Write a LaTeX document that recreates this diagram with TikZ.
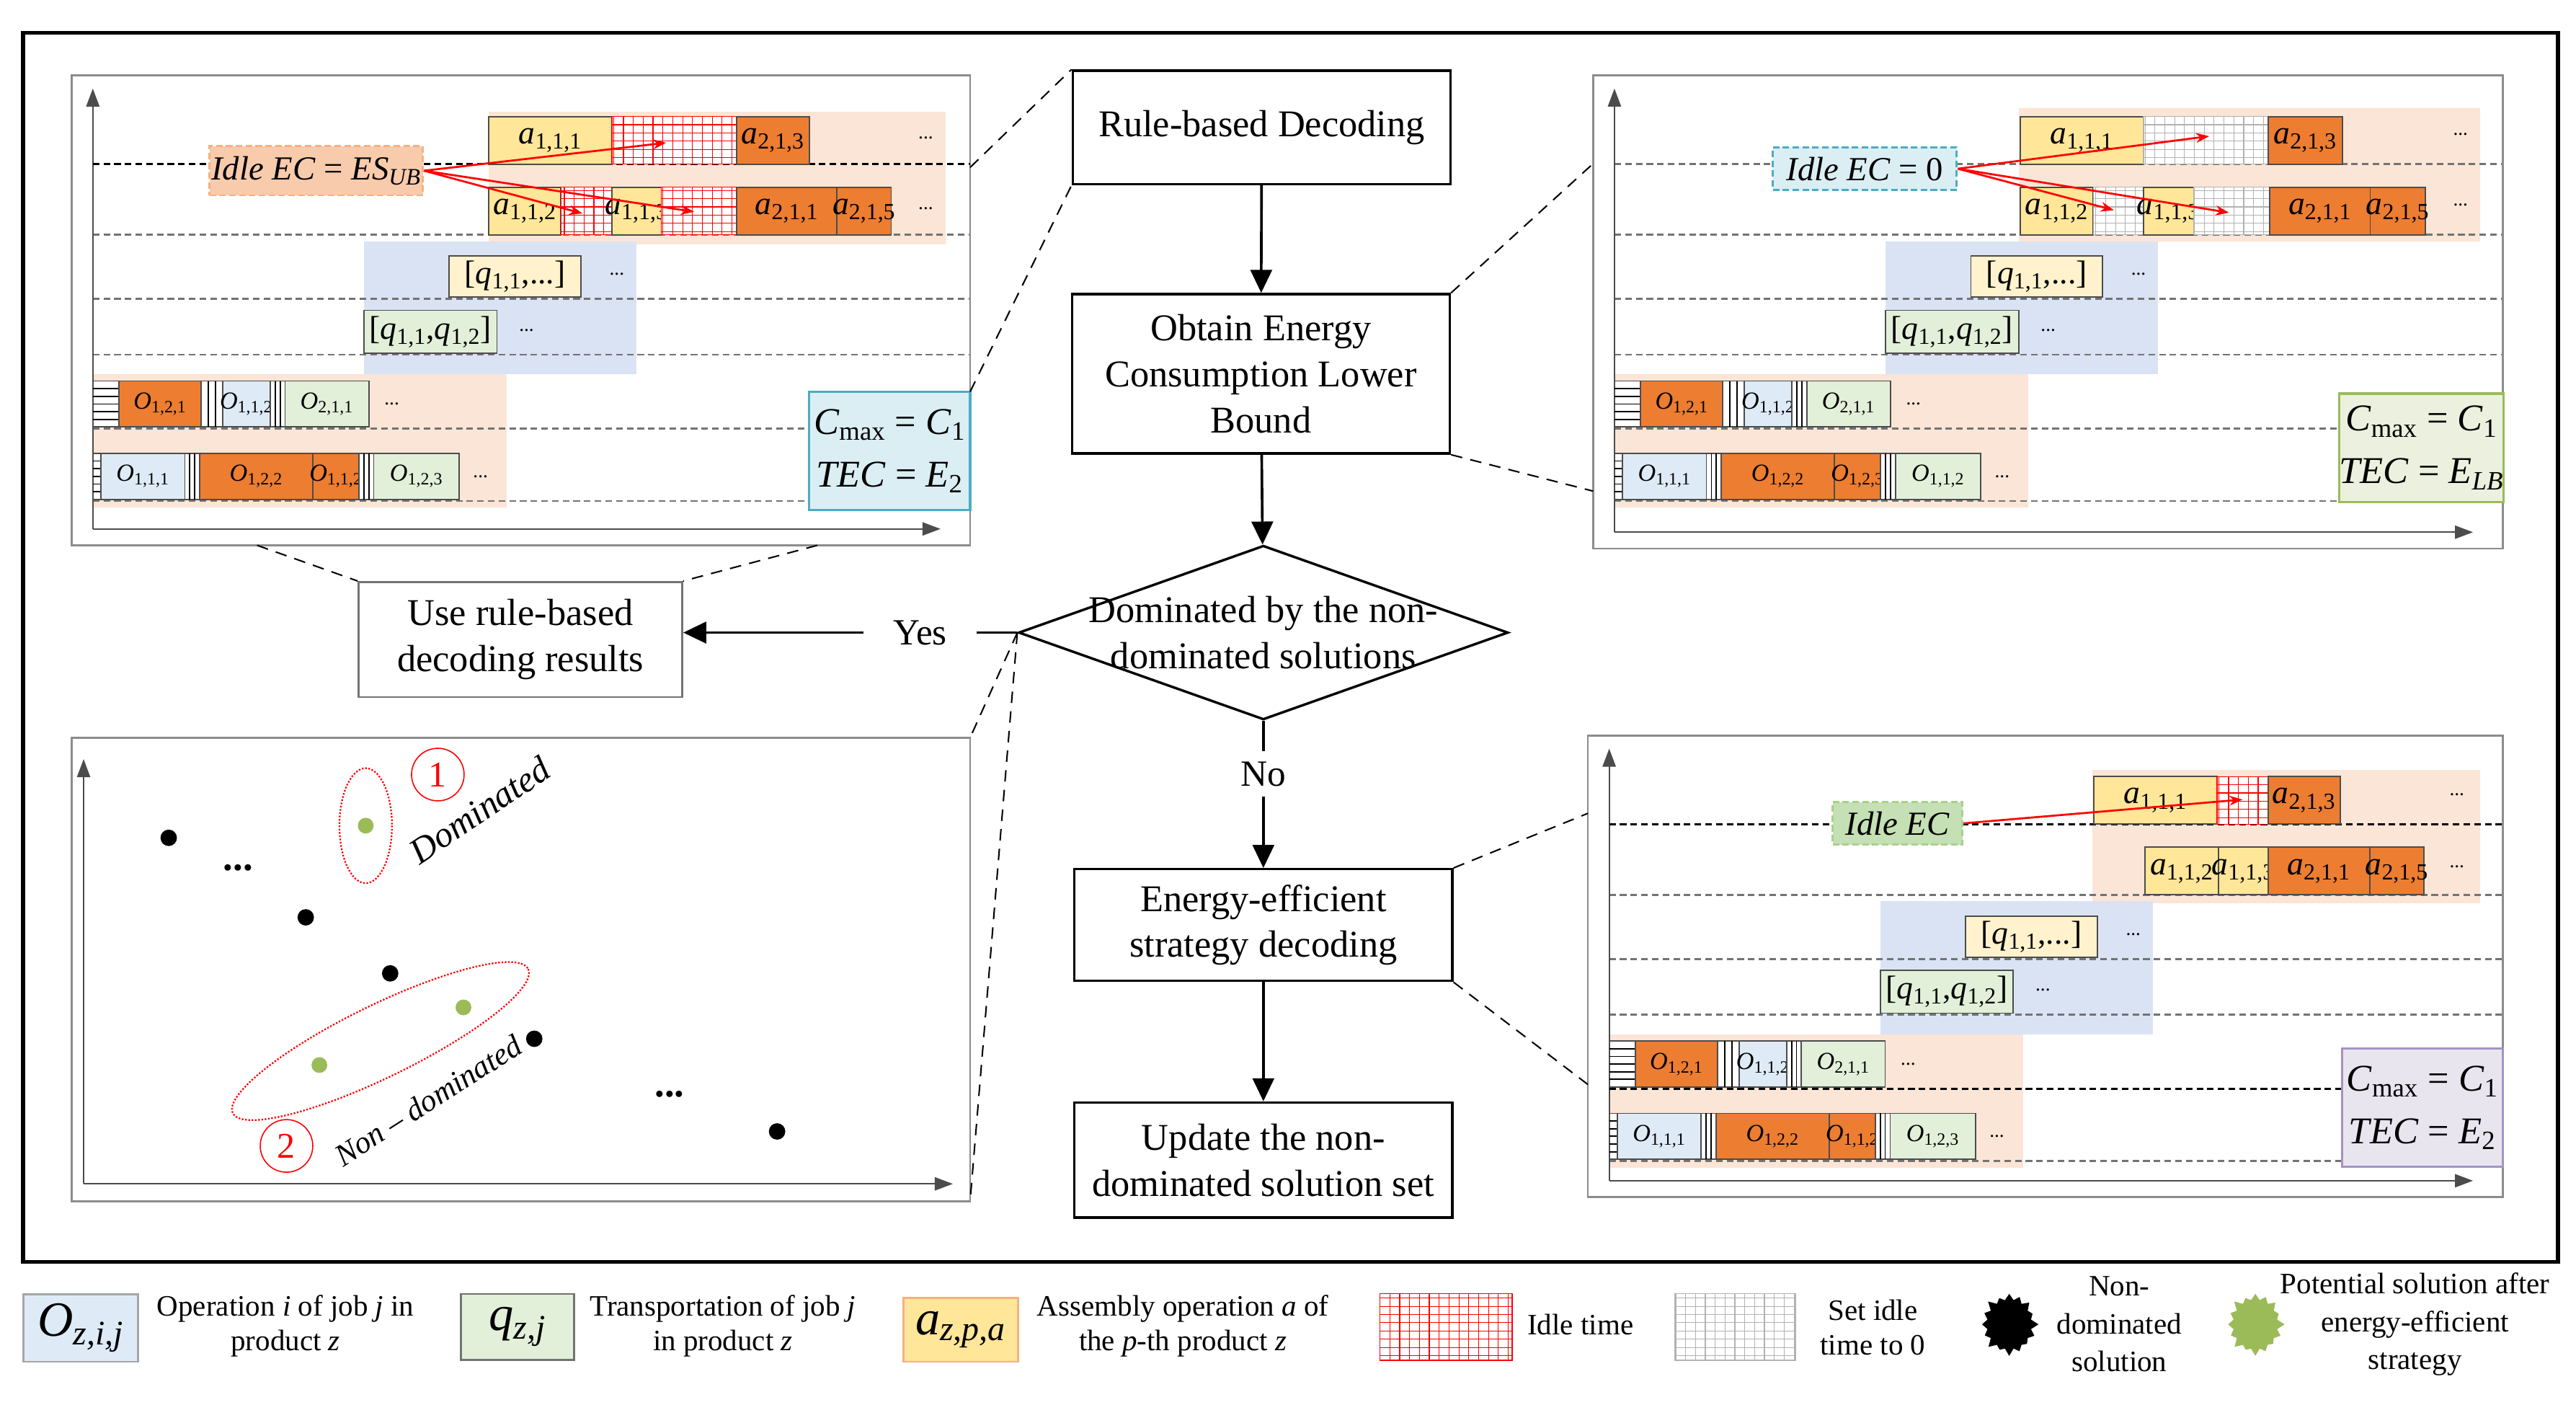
\documentclass[tikz,border=0pt]{standalone}
\usepackage{fontspec}
\setmainfont{Liberation Serif}
\usetikzlibrary{arrows.meta,positioning,shapes.geometric,shapes.symbols}

\definecolor{peach}{HTML}{FBE5D6}
\definecolor{orng}{HTML}{ED7D31}
\definecolor{asmy}{HTML}{FFE699}
\definecolor{bluebg}{HTML}{DAE3F3}
\definecolor{qyel}{HTML}{FFF2CC}
\definecolor{lgreen}{HTML}{E2F0D9}
\definecolor{lblue}{HTML}{DEEBF7}
\definecolor{tealf}{HTML}{DAEEF3}
\definecolor{teald}{HTML}{4BACC6}
\definecolor{olivef}{HTML}{EBF1DE}
\definecolor{olived}{HTML}{9BBB59}
\definecolor{purf}{HTML}{E9E5EF}
\definecolor{purd}{HTML}{A593C4}
\definecolor{idlef}{HTML}{F8CBAD}
\definecolor{idled}{HTML}{F4B183}
\definecolor{ecgf}{HTML}{C5E0B4}
\definecolor{ecgd}{HTML}{A9D18E}

\tikzset{
  flow/.style={draw,line width=1.5pt,minimum width=230pt,align=center,font=\fontsize{23}{28}\selectfont},
  decide/.style={draw,diamond,line width=1.5pt,minimum width=298pt,minimum height=106pt,inner sep=0pt},
  conn/.style={line width=1.6pt,-{Triangle[length=14pt,width=13pt]}},
  zoomln/.style={dash pattern=on 7pt off 5pt,line width=.9pt},
  panel/.style={draw=black!45,line width=1.2pt},
  axis/.style={line width=1pt,black!70,-{Triangle[length=11pt,width=8pt]}},
  gdash/.style={black!55,dash pattern=on 4pt off 2.5pt,line width=1.2pt},
  kdash/.style={black,dash pattern=on 4pt off 2.5pt,line width=1.4pt},
  gblock/.style={draw=black!70,line width=.8pt},
  glab/.style={font=\fontsize{20}{20}\selectfont,inner sep=0pt},
  qlab/.style={font=\fontsize{20}{20}\selectfont,inner sep=0pt},
  olab/.style={font=\fontsize{15}{15}\selectfont,inner sep=0pt},
  gdots/.style={font=\fontsize{12}{12}\selectfont},
  idlebox/.style={dash pattern=on 4pt off 2pt,line width=1.3pt,inner sep=0pt,font=\fontsize{20.5}{20.5}\selectfont\itshape},
  resbox/.style={line width=1.5pt,align=center,inner sep=0pt,font=\fontsize{23}{32}\selectfont},
  redarr/.style={red,line width=1.2pt,-{Stealth[length=8pt,width=6pt]}},
  legtxt/.style={align=center,font=\fontsize{18}{21}\selectfont},
  legbox/.style={line width=1.2pt,inner sep=0pt},
}

\newcommand\op[2]{\textit{#1}\textsubscript{#2}}
% block with centred label
\newcommand\gblk[7][glab]{\filldraw[gblock,fill=#6] (#2,#3) rectangle (#4,#5);
  \node[#1] at ({(#2+#4)/2},{(#3+#5)/2}) {#7};}
% idle time grid
\newcommand\gidle[5]{\filldraw[fill=white,draw=#5,line width=.6pt] (#1,#2) rectangle (#3,#4);
  \draw[#5,line width=.5pt,xstep=6pt,ystep=5pt] (#1,#2) grid (#3,#4);}
% striped fillers
\newcommand\hst[4]{\filldraw[gblock,fill=white] (#1,#2) rectangle (#3,#4);
  \foreach \k in {1,...,5} \draw[line width=.8pt] (#1,{#2+\k*(#4-#2)/6}) -- (#3,{#2+\k*(#4-#2)/6});}
\newcommand\vst[4]{\filldraw[gblock,fill=white] (#1,#2) rectangle (#3,#4);
  \foreach \k in {1,2} \draw[line width=.8pt] ({#1+\k*(#3-#1)/3},#2) -- ({#1+\k*(#3-#1)/3},#4);}
% common part of a gantt panel: width, height, labels of row 2
\newcommand\gantt[4]{%
  \fill[bluebg] (178,101) rectangle (344,182);
  \fill[peach] (13,182) rectangle (265,263);
  \foreach \y in {54,97,136,170,215,259} \draw[gdash] (13,\y) -- (#1,\y);
  \draw[axis] (13,{#2-10}) -- (13,8);
  \draw[axis] (13,{#2-10}) -- ({#1-18},{#2-10});
  \gblk[qlab]{230}{110}{310}{135}{qyel}{[\op{q}{1,1},...]}
  \node[gdots] at (332,121) {...};
  \gblk[qlab]{178}{143}{259}{169}{lgreen}{[\op{q}{1,1},\op{q}{1,2}]}
  \node[gdots] at (277,155) {...};
  \hst{13}{186}{29}{214}
  \gblk[olab]{29}{186}{79}{214}{orng}{\op{O}{1,2,1}}
  \vst{79}{186}{92}{214}
  \gblk[olab]{92}{186}{121}{214}{lblue}{\op{O}{1,1,2}}
  \vst{121}{186}{130}{214}
  \gblk[olab]{130}{186}{181}{214}{lgreen}{\op{O}{2,1,1}}
  \node[gdots] at (195,200) {...};
  \hst{13}{230}{18}{258}
  \gblk[olab]{18}{230}{69}{258}{lblue}{\op{O}{1,1,1}}
  \vst{69}{230}{78}{258}
  \gblk[olab]{78}{230}{147}{258}{orng}{\op{O}{1,2,2}}
  \gblk[olab]{147}{230}{175}{258}{orng}{\op{O}{#3}}
  \vst{175}{230}{184}{258}
  \gblk[olab]{184}{230}{236}{258}{lgreen}{\op{O}{#4}}
  \node[gdots] at (249,244) {...};
  \draw[panel] (0,0) rectangle (#1,#2);
}

\begin{document}
\begin{tikzpicture}[x=1pt,y=-1pt]
\useasboundingbox (0,0) rectangle (1568,866);
\draw[line width=2.4pt] (14,20) rectangle (1557,768);

% rule-based schedule
\begin{scope}[shift={(43.5,45.9)}]
  \fill[peach] (254,22) rectangle (532,103);
  \gantt{547}{286}{1,1,2}{1,2,3}
  \draw[kdash] (13,54) -- (547,54);
  \gblk{254}{25}{329}{54}{asmy}{\op{a}{1,1,1}}
  \gidle{329}{25}{405}{54}{red}
  \gblk{405}{25}{449}{54}{orng}{\op{a}{2,1,3}}
  \node[gdots] at (520,38) {...};
  \gblk{254}{68}{298}{97}{asmy}{\op{a}{1,1,2}}
  \gidle{298}{68}{329}{97}{red}
  \gblk{329}{68}{359}{97}{asmy}{\op{a}{1,1,3}}
  \gidle{359}{68}{405}{97}{red}
  \gblk{405}{68}{466}{97}{orng}{\op{a}{2,1,1}}
  \gblk{466}{68}{499}{97}{orng}{\op{a}{2,1,5}}
  \node[gdots] at (520,81) {...};
  \node[idlebox,draw=idled,fill=idlef,minimum width=130pt,minimum height=30pt] (ecTL) at (149,58) {Idle EC \textup{=} ES\textsubscript{UB}};
  \coordinate (tl1) at (362,41); \coordinate (tl2) at (311,84); \coordinate (tl3) at (379,83);
  \foreach \t in {tl1,tl2,tl3} \draw[redarr] (ecTL.east) -- (\t);
  \node[resbox,draw=teald,fill=tealf,minimum width=98pt,minimum height=72pt] (resTL) at (498,228.6)
    {\op{C}{max} = \op{C}{1}\\\textit{TEC} = \op{E}{2}};
  \coordinate (tlA) at (547,56); \coordinate (tlB) at (547,192.5);
  \coordinate (tlC) at (113,286); \coordinate (tlD) at (454,286);
\end{scope}

% lower bound schedule
\begin{scope}[shift={(969.7,45.9)}]
  \fill[peach] (259,20) rectangle (540,101);
  \gantt{553.6}{288}{1,2,3}{1,1,2}
  \gblk{260}{25}{335}{54}{asmy}{\op{a}{1,1,1}}
  \gidle{335}{25}{411}{54}{black!30}
  \gblk{411}{25}{456}{54}{orng}{\op{a}{2,1,3}}
  \node[gdots] at (528,36) {...};
  \gblk{260}{68}{304.5}{97}{asmy}{\op{a}{1,1,2}}
  \gidle{304.5}{68}{335}{97}{black!30}
  \gblk{335}{68}{365.5}{97}{asmy}{\op{a}{1,1,3}}
  \gidle{365.5}{68}{412}{97}{black!30}
  \gblk{412}{68}{473}{97}{orng}{\op{a}{2,1,1}}
  \gblk{473}{68}{506.6}{97}{orng}{\op{a}{2,1,5}}
  \node[gdots] at (528,79) {...};
  \node[idlebox,draw=teald,fill=tealf,minimum width=112pt,minimum height=26pt] (ecTR) at (165.4,56.8) {Idle EC \textup{= 0}};
  \coordinate (tr1) at (375,37); \coordinate (tr2) at (317,82); \coordinate (tr3) at (387,83.5);
  \foreach \t in {tr1,tr2,tr3} \draw[redarr] (ecTR.east) -- (\t);
  \node[resbox,draw=olived,fill=olivef,minimum width=99pt,minimum height=66pt] (resTR) at (504.2,226.7)
    {\op{C}{max} = \op{C}{1}\\\textit{TEC} = \op{E}{\textit{LB}}};
  \coordinate (trA) at (0,53.7); \coordinate (trB) at (0,253);
\end{scope}

% energy-efficient schedule
\begin{scope}[shift={(966.5,447.6)}]
  \fill[peach] (307,21) rectangle (543,102);
  \gantt{556.8}{281}{1,1,2}{1,2,3}
  \draw[kdash] (13,54) -- (556.8,54);
  \draw[kdash] (13,215) -- (459,215);
  \gblk{308}{25}{383}{54}{asmy}{\op{a}{1,1,1}}
  \gidle{383}{25}{414}{54}{red}
  \gblk{414}{25}{458}{54}{orng}{\op{a}{2,1,3}}
  \node[gdots] at (529,36) {...};
  \gblk{339}{68}{384}{97}{asmy}{\op{a}{1,1,2}}
  \gblk{384}{68}{414}{97}{asmy}{\op{a}{1,1,3}}
  \gblk{414}{68}{476}{97}{orng}{\op{a}{2,1,1}}
  \gblk{476}{68}{509}{97}{orng}{\op{a}{2,1,5}}
  \node[gdots] at (529,80) {...};
  \node[idlebox,draw=ecgd,fill=ecgf,minimum width=79pt,minimum height=26pt] (ecBR) at (188.5,53.5) {Idle EC};
  \coordinate (br1) at (398.5,39);
  \draw[redarr] (ecBR.east) -- (br1);
  \node[resbox,draw=purd,fill=purf,minimum width=97.7pt,minimum height=72pt] (resBR) at (508,226.5)
    {\op{C}{max} = \op{C}{1}\\\textit{TEC} = \op{E}{2}};
  \coordinate (brA) at (0,47.4); \coordinate (brB) at (0,212.4);
\end{scope}

% solution space
\draw[panel] (43.5,449) rectangle (590.5,731);
\coordinate (blA) at (590.5,449); \coordinate (blB) at (590.5,731);
\draw[axis] (50.9,720.5) -- (50.9,462);
\draw[axis] (50.9,720.5) -- (580,720.5);
\foreach \x/\y in {102.7/509.9,186.1/558.3,237.5/592.4,325.2/632.2,473/688.6}
  \fill (\x,\y) circle (5);
\foreach \x/\y in {222.6/502.5,282.1/613.1,194.4/648.2}
  \fill[olived] (\x,\y) circle (4.8);
\node[font=\bfseries\fontsize{24}{24}\selectfont] (dl1) at (145,528) {...};
\node[font=\bfseries\fontsize{24}{24}\selectfont] (dl2) at (407.5,666) {...};
\draw[red,densely dotted,line width=1pt] (222.6,502.5) ellipse [x radius=16,y radius=35];
\draw[red,densely dotted,line width=1pt,rotate around={26:(231.6,633.6)}] (231.6,633.6) ellipse [x radius=100,y radius=22];
\node[circle,draw=red,line width=.7pt,minimum size=32pt,inner sep=0pt,text=red,font=\fontsize{22}{22}\selectfont] (num1) at (266.5,471.4) {1};
\node[circle,draw=red,line width=.7pt,minimum size=32pt,inner sep=0pt,text=red,font=\fontsize{22}{22}\selectfont] (num2) at (174.4,697.4) {2};
\node[rotate=34,font=\itshape\fontsize{22}{22}\selectfont] (domlab) at (292,493) {Dominated};
\node[rotate=32.5,font=\itshape\fontsize{19}{19}\selectfont] (ndlab) at (260.6,669.7) {Non \textup{--} dominated};

% flow chart
\node[flow,minimum height=69pt] (rule) at (768,77.5) {Rule-based Decoding};
\node[flow,minimum height=97pt] (lower) at (767.5,227.5) {Obtain Energy\\Consumption Lower\\Bound};
\node[decide] (dom) at (769,385) {};
\node[align=center,font=\fontsize{23}{28}\selectfont] (domtxt) at (dom.center) {Dominated by the non-\\dominated solutions};
\node[flow,draw=black!55,line width=1.2pt,minimum width=197pt,minimum height=70pt] (use) at (316.8,389.2) {Use rule-based\\decoding results};
\node[inner xsep=18pt,font=\fontsize{22.5}{22.5}\selectfont] (yes) at (560,385) {Yes};
\node[inner sep=6pt,font=\fontsize{22.5}{22.5}\selectfont] (no) at (769,471) {No};
\node[flow,minimum height=68pt] (eff) at (769,563) {Energy-efficient\\strategy decoding};
\node[flow,minimum height=70pt] (upd) at (769,706) {Update the non-\\dominated solution set};

\draw[conn] (rule) -- (lower);
\draw[conn] (lower) -- (dom);
\draw[conn] (dom.west) -- (yes) -- (yes -| use.east);
\draw[conn] (dom) -- (no) -- (eff);
\draw[conn] (eff) -- (upd);

% zoom lines
\draw[zoomln] (tlA) -- (rule.north west);
\draw[zoomln] (tlB) -- (rule.south west);
\draw[zoomln] (lower.north east) -- (trA);
\draw[zoomln] (lower.south east) -- (trB);
\draw[zoomln] (tlC) -- (use.north west);
\draw[zoomln] (tlD) -- (use.north east);
\draw[zoomln] (dom.west) -- (blA);
\draw[zoomln] (dom.west) -- (blB);
\draw[zoomln] (eff.north east) -- (brA);
\draw[zoomln] (eff.south east) -- (brB);

% legend
\node[legbox,draw=black!35,fill=lblue,minimum width=70pt,minimum height=41pt] (lgO) at (49.1,808.2)
  {\fontsize{30}{30}\selectfont\textit{O}\textsubscript{\textit{z,i,j}}};
\node[legtxt] (lgOt) at (173.8,807) {Operation \textit{i} of job \textit{j} in\\product \textit{z}};
\node[legbox,draw=black!55,fill=lgreen,minimum width=69pt,minimum height=40pt] (lgq) at (315.1,807.5)
  {\fontsize{30}{30}\selectfont\textit{q}\textsubscript{\textit{z,j}}};
\node[legtxt] (lgqt) at (440,807) {Transportation of job \textit{j}\\in product \textit{z}};
\node[legbox,draw=idled,fill=asmy,minimum width=69.6pt,minimum height=39pt] (lga) at (584.8,809.3)
  {\fontsize{30}{30}\selectfont\textit{a}\textsubscript{\textit{z,p,a}}};
\node[legtxt] (lgat) at (720,807) {Assembly operation \textit{a} of\\the \textit{p}-th product \textit{z}};
\gidle{840}{787.3}{920.5}{827.9}{red}
\node[legtxt] (lgit) at (962,806) {Idle time};
\gidle{1019.5}{787.3}{1092.9}{827.9}{black!30}
\node[legtxt] (lgst) at (1140,808) {Set idle\\time to 0};
\node[starburst,fill=black,inner sep=0pt,minimum width=37pt,minimum height=40pt,starburst points=16,starburst point height=5pt] (lgnd) at (1223,806) {};
\node[legtxt,font=\fontsize{18}{23}\selectfont] (lgnt) at (1290,806) {Non-\\dominated\\solution};
\node[starburst,fill=olived,inner sep=0pt,minimum width=37pt,minimum height=40pt,starburst points=16,starburst point height=5pt] (lgpo) at (1372.8,806) {};
\node[legtxt,font=\fontsize{18}{23}\selectfont] (lgpt) at (1470,806) {Potential solution after\\energy-efficient\\strategy};
\end{tikzpicture}
\end{document}
